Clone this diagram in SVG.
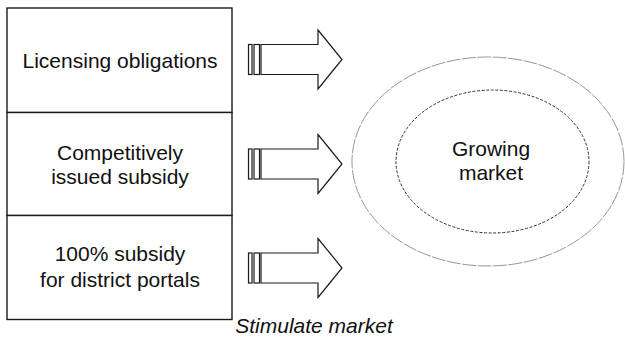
<svg xmlns="http://www.w3.org/2000/svg" width="625" height="339" viewBox="0 0 625 339">
<style>
.box{fill:#fff;stroke:#1a1a1a;stroke-width:1.4}
.t{font-family:"Liberation Sans",Arial,sans-serif;font-size:21px;fill:#111;text-anchor:middle}
.arr{fill:#fff;stroke:#1a1a1a;stroke-width:1.2;stroke-linejoin:miter}
.outer{fill:none;stroke:#8a8a8a;stroke-width:0.9;stroke-dasharray:14 1.5}
.inner{fill:none;stroke:#333;stroke-width:1;stroke-dasharray:3 1.6}
</style>
<defs>
<g id="arrow">
<rect class="arr" x="248.5" y="-15" width="3.5" height="30"/>
<rect class="arr" x="254" y="-15" width="5.5" height="30"/>
<path class="arr" d="M261,-15 H318 V-29.5 L342,0 L318,29.5 V15 H261 Z"/>
</g>
</defs>
<rect fill="#fff" x="0" y="0" width="625" height="339"/>
<g id="node-licensing">
<rect class="box" x="7" y="8" width="225" height="104.5"/>
<text class="t" x="120" y="68">Licensing obligations</text>
</g>
<g id="node-competitive">
<rect class="box" x="7" y="112.5" width="225" height="103"/>
<text class="t" x="120" y="160">Competitively</text>
<text class="t" x="120" y="184">issued subsidy</text>
</g>
<g id="node-portals">
<rect class="box" x="7" y="215.5" width="225" height="104"/>
<text class="t" x="120" y="261">100% subsidy</text>
<text class="t" x="120" y="287">for district portals</text>
</g>
<g id="connectors">
<use href="#arrow" transform="translate(0,59.5)"/>
<use href="#arrow" transform="translate(0,164)"/>
<use href="#arrow" transform="translate(0,268)"/>
</g>
<g id="node-market">
<ellipse class="outer" cx="488" cy="161.5" rx="136" ry="104.5"/>
<ellipse class="inner" cx="492.5" cy="161.5" rx="96.5" ry="71.5"/>
<text class="t" x="491" y="156">Growing</text>
<text class="t" x="491" y="180">market</text>
</g>
<g id="caption">
<text class="t" x="314" y="333" font-style="italic">Stimulate market</text>
</g>
</svg>
